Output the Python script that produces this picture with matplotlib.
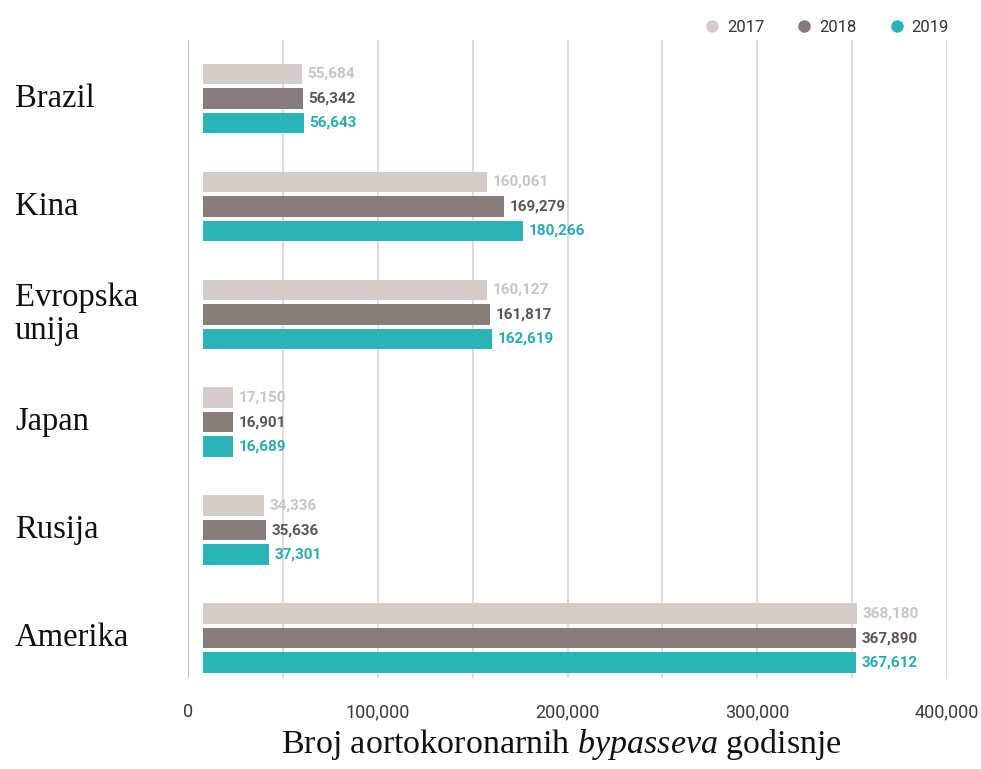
import numpy as np
import matplotlib
matplotlib.use('Agg')
import matplotlib.pyplot as plt
from matplotlib.lines import Line2D
from matplotlib.transforms import blended_transform_factory

# ── data ─────────────────────────────────────────────────────────────────────
countries = ['Brazil', 'Kina', 'Evropska\nunija', 'Japan', 'Rusija', 'Amerika']
years     = ['2017', '2018', '2019']
v2017     = [55684, 160061, 160127, 17150, 34336, 368180]
v2018     = [56342, 169279, 161817, 16901, 35636, 367890]
v2019     = [56643, 180266, 162619, 16689, 37301, 367612]
x_ticks   = [0, 100000, 200000, 300000, 400000]

bar_colors   = ['#d4ccc9', '#877c79', '#2bb4b8']
label_colors = ['#cbc4c1', '#5f5653', '#26adb1']

plt.rcParams['mathtext.fontset'] = 'custom'
plt.rcParams['mathtext.rm'] = 'Liberation Serif'
plt.rcParams['mathtext.it'] = 'Liberation Serif:italic'

fig = plt.figure(figsize=(9.81, 7.69), dpi=100)

# ── grid axis (behind): the printed scale 0..400,000 ────────────────────────
gax = fig.add_axes([188/981, 1 - 678/769, (947 - 188)/981, (678 - 40)/769])
gax.set_xlim(0, 400000)
gax.set_xticks(x_ticks)
gax.set_xticks(np.arange(50000, 400000, 100000), minor=True)
gax.set_xticklabels([f'{t:,}' for t in x_ticks], fontsize=13,
                    color='#3a3a3a', family='Roboto')
gax.tick_params(axis='x', which='both', length=0, pad=18)
gax.set_yticks([])
gax.grid(axis='x', which='both', color='#d2d2d2', lw=1.1)
for s in gax.spines.values():
    s.set_visible(False)
gax.axvline(0, color='#bdbdbd', lw=1.2)

# axis title, placed under the tick labels
fig.text(561/981, 1 - 745/769,
         r'Broj aortokoronarnih $\mathit{bypasseva}$ godisnje',
         family='Liberation Serif', fontsize=24.5, color='#111111',
         ha='center', va='center')

# ── bar axis (on top) ────────────────────────────────────────────────────────
ax = gax.twiny()
ax.set_xlim(-8446, 418919)
ax.set_ylim(5.37, -0.542)
ax.set_xticks([])
for s in ax.spines.values():
    s.set_visible(False)

ypos   = np.arange(len(countries))
offset = 0.227
height = 0.19
for k, (vals, col, lcol) in enumerate(zip([v2017, v2018, v2019],
                                          bar_colors, label_colors)):
    yy = ypos + (k - 1) * offset
    ax.barh(yy, vals, height=height, color=col)
    for y, v in zip(yy, vals):
        ax.annotate(f'{v:,}', (v, y), xytext=(4, 0), textcoords='offset points',
                    va='center', ha='left', fontsize=11, fontweight='bold',
                    color=lcol, family='Roboto')

# category labels
tr = blended_transform_factory(fig.transFigure, ax.transData)
for y, name in zip(ypos, countries):
    ax.text(15/981, y, name, transform=tr, ha='left', va='center',
            family='Liberation Serif', fontsize=23.5, color='#111111',
            linespacing=1.1)

# legend
handles = [Line2D([], [], marker='o', ls='', ms=8, color=c) for c in bar_colors]
fig.legend(handles, years, loc='upper right', bbox_to_anchor=(964/981, 1 - 5/769),
           ncol=3, frameon=False, handletextpad=0.5, columnspacing=2.0,
           handlelength=0.8, labelcolor='#333333',
           prop={'family': 'Roboto', 'size': 12})

fig.savefig('out.png', dpi=100)
